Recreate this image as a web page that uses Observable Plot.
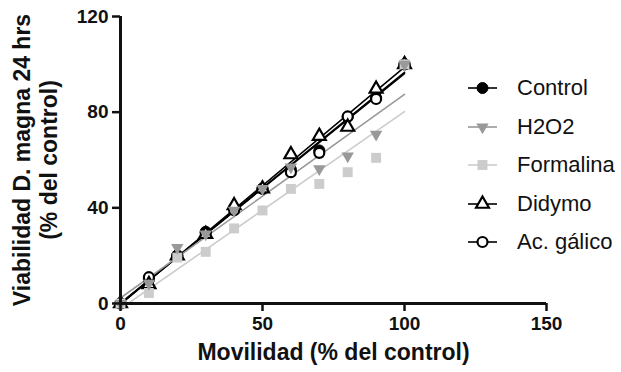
<!DOCTYPE html>
<html>
<head>
<meta charset="utf-8">
<script src="https://cdn.jsdelivr.net/npm/d3@7"></script>
<script src="https://cdn.jsdelivr.net/npm/@observablehq/plot@0.6"></script>
<style>
  body { margin: 0; background: #fff; font-family: "Liberation Sans", Arial, sans-serif; }
  #wrap { position: relative; width: 621px; height: 372px; }
  #legend { position: absolute; left: 466px; top: 69px; }
  .row { display: flex; align-items: center; height: 38.5px; font-size: 22px; color: #111; }
  .row svg { margin-right: 19px; }
</style>
</head>
<body>
<div id="wrap"></div>
<script>
const movilidad = [0, 10, 20, 30, 40, 50, 60, 70, 80, 90, 100];
const control   = [0, 10, 20, 30, 40, 48, 56, 64, 78, 86, 100];
const h2o2      = [0, 8.4, 23.4, 29, 39, 48, 57, 56.3, 61.6, 70.7, 100];
const formalina = [0, 4.4, 19.2, 21.6, 31.4, 38.9, 47.9, 50, 54.9, 60.9, 100];
const didymo    = [0, 8, 20, 29, 41, 48, 62.3, 70, 73.8, 89.7, 100];
const acGalico  = [0, 11, 20, 29.5, 39, 48, 54.9, 63, 78.2, 85.5, 100];
const xTicks = [0, 50, 100, 150];
const yTicks = [0, 40, 80, 120];

const series = [
  {name: "Control",    values: control,   color: "#000", symbol: "circle",   fill: "#000",  r: 5.5, rotate: 0,   sw: 1},
  {name: "Ac. gálico", values: acGalico,  color: "#000", symbol: "circle",   fill: "#fff",  r: 5,   rotate: 0,   sw: 2.2},
  {name: "Didymo",     values: didymo,    color: "#000", symbol: "triangle", fill: "#fff",  r: 4.8, rotate: 0,   sw: 2.2},
  {name: "Formalina",  values: formalina, color: "#cccccc", symbol: "square", fill: "#cccccc", r: 5.6, rotate: 0, sw: 0},
  {name: "H2O2",       values: h2o2,      color: "#999999", symbol: "triangle", fill: "#999999", r: 4.6, rotate: 180, sw: 0}
];

const marks = [];
for (const s of series) {
  const data = movilidad.map((x, i) => ({x, y: s.values[i]}));
  marks.push(Plot.linearRegressionY(data, {x: "x", y: "y", ci: 0, stroke: s.color, strokeWidth: 1.6}));
}
for (const s of series) {
  const data = movilidad.map((x, i) => ({x, y: s.values[i]}));
  marks.push(Plot.dot(data, {x: "x", y: "y", symbol: s.symbol, r: s.r, rotate: s.rotate,
    fill: s.fill, stroke: s.sw ? s.color : "none", strokeWidth: s.sw}));
}

const chart = Plot.plot({
  width: 621,
  height: 372,
  marginLeft: 120,
  marginRight: 75,
  marginTop: 16,
  marginBottom: 69,
  style: {fontFamily: "'Liberation Sans', Arial, sans-serif", background: "#fff", color: "#111"},
  x: {domain: [0, 150]},
  y: {domain: [0, 120]},
  marks: [
    ...marks,
    Plot.ruleX([0], {y1: 0, y2: 120, strokeWidth: 3, stroke: "#111"}),
    Plot.ruleY([0], {x1: 0, x2: 150, strokeWidth: 3, stroke: "#111"}),
    Plot.axisX({ticks: xTicks, tickSize: 8, tickPadding: 5, strokeWidth: 2.5, fontSize: 19, fontWeight: "bold", label: null}),
    Plot.axisY({ticks: yTicks, tickSize: 8, tickPadding: 4, strokeWidth: 2.5, fontSize: 19, fontWeight: "bold", label: null}),
    Plot.text(["Movilidad (% del control)"], {frameAnchor: "bottom", dy: 56, fontSize: 23, fontWeight: "bold", fill: "#111"}),
    Plot.text(["Viabilidad D. magna 24 hrs\n(% del control)"], {frameAnchor: "left", textAnchor: "middle", dx: -85.5, rotate: -90, lineHeight: 1.17, fontSize: 23, fontWeight: "bold", fill: "#111"})
  ]
});

const wrap = document.getElementById("wrap");
wrap.appendChild(chart);

// Legend
const legendOrder = ["Control", "H2O2", "Formalina", "Didymo", "Ac. gálico"];
const legend = document.createElement("div");
legend.id = "legend";
for (const name of legendOrder) {
  const s = series.find(d => d.name === name);
  const row = document.createElement("div");
  row.className = "row";
  const svg = d3.create("svg").attr("width", 32).attr("height", 20);
  svg.append("line").attr("x1", 2).attr("x2", 31).attr("y1", 10).attr("y2", 10)
    .attr("stroke", s.color).attr("stroke-width", 1.6);
  const sym = {circle: d3.symbolCircle, triangle: d3.symbolTriangle, square: d3.symbolSquare}[s.symbol];
  svg.append("path").attr("d", d3.symbol(sym, Math.PI * s.r * s.r)())
    .attr("transform", `translate(16.5,10) rotate(${s.rotate})`)
    .attr("fill", s.fill).attr("stroke", s.sw ? s.color : "none").attr("stroke-width", s.sw);
  row.appendChild(svg.node());
  const t = document.createElement("span");
  t.textContent = name;
  row.appendChild(t);
  legend.appendChild(row);
}
wrap.appendChild(legend);
</script>
</body>
</html>
